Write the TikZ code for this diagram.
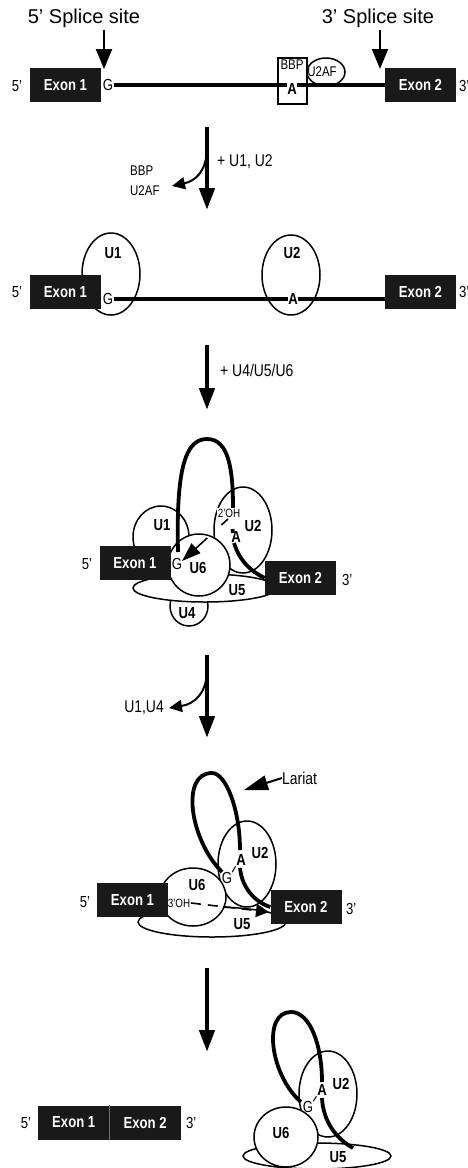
\documentclass[tikz,border=0pt]{standalone}
\usepackage{fontspec}
\setmainfont{Liberation Sans}
\newfontfamily\narrowsans{Liberation Sans}[FakeStretch=0.82]
\usetikzlibrary{arrows.meta}

\tikzset{
  exon/.style={fill=black!90, text=white, minimum width=71pt, minimum height=34pt, inner sep=0pt,
    font=\narrowsans\bfseries\fontsize{16}{16}\selectfont},
  endlabel/.style={font=\narrowsans\fontsize{16}{16}\selectfont, inner sep=0pt},
  nucl/.style={font=\narrowsans\fontsize{16}{16}\selectfont, fill=white, inner sep=0.6pt},
  nuclA/.style={nucl, font=\narrowsans\bfseries\fontsize{16}{16}\selectfont},
  snlabel/.style={font=\narrowsans\bfseries\fontsize{16}{16}\selectfont, inner sep=0pt},
  smalltext/.style={font=\narrowsans\fontsize{14}{14}\selectfont, inner sep=0pt},
  ohtext/.style={font=\narrowsans\fontsize{12}{12}\selectfont, fill=white, inner sep=0.5pt},
  steptext/.style={font=\narrowsans\fontsize{17}{17}\selectfont, inner sep=0pt},
  sitetext/.style={font=\fontsize{20}{20}\selectfont, inner sep=2pt},
  snrna/.style={draw, fill=white, line width=1.5pt},
  intron/.style={line width=3.2pt},
  lariat/.style={line width=3.8pt},
  reaction/.style={line width=4.5pt, -{Triangle[length=22pt,width=15pt]}},
  release/.style={line width=2pt, -{Triangle[length=13pt,width=12pt]}},
  siteptr/.style={line width=2pt, -{Triangle[length=20pt,width=16pt]}},
  attack/.style={line width=1.6pt, -{Triangle[length=19pt,width=13pt]}},
}

\begin{document}
\begin{tikzpicture}[x=1pt, y=-1pt]
\useasboundingbox (0,0) rectangle (468,1168);

% pre-mRNA
\node[sitetext] (ss5) at (84,18) {5’ Splice site};
\node[sitetext] (ss3) at (378,18) {3’ Splice site};
\coordinate (t5) at (104,69);
\coordinate (t3) at (380,69);
\draw[siteptr] (ss5.south -| t5) -- (t5);
\draw[siteptr] (ss3.south -| t3) -- (t3);
\draw[snrna] (278,58) rectangle (307,104);
\draw[snrna] (326,72) ellipse [x radius=19, y radius=14];
\node[exon] (e1a) at (65.5,85) {Exon 1};
\node[exon] (e2a) at (420.5,85) {Exon 2};
\node[endlabel] (p5a) at (17,86) {5’};
\node[endlabel, anchor=west] (p3a) at (459,86) {3’};
\node[nucl] (ga) at (108,85) {G};
\draw[intron] (ga.east) -- (e2a.west);
\node[nuclA] (aa) at (292,89) {A};
\node[smalltext] (bbp) at (292,65) {BBP};
\node[smalltext] (u2af) at (322,72) {U2AF};

% step 1
\coordinate (s1) at (207,127);
\coordinate (s1e) at (207,210);
\draw[reaction] (s1) -- (s1e);
\node[steptext, anchor=west] (add1) at (217,162) {+ U1, U2};
\node[smalltext, anchor=west] (out1a) at (130,171) {BBP};
\node[smalltext, anchor=west] (out1b) at (130,191) {U2AF};
\coordinate (r1) at (172,186);
\draw[release] (207,150) .. controls (206,172) and (195,181) .. (r1);

% U1 and U2 bound
\draw[snrna] (111,274) ellipse [x radius=29, y radius=41];
\draw[snrna] (291,275) ellipse [x radius=29, y radius=40];
\node[exon] (e1b) at (65.5,292) {Exon 1};
\node[exon] (e2b) at (420.5,292) {Exon 2};
\node[endlabel] (p5b) at (17,292) {5’};
\node[endlabel, anchor=west] (p3b) at (459,292) {3’};
\node[nucl] (gb) at (108,299) {G};
\draw[intron] (gb.east) -- (gb.east -| e2b.west);
\node[nuclA] (ab) at (293,299) {A};
\node[snlabel] (u1b) at (113,253) {U1};
\node[snlabel] (u2b) at (292,253) {U2};

% step 2
\coordinate (s2) at (207,345);
\coordinate (s2e) at (207,410);
\draw[reaction] (s2) -- (s2e);
\node[steptext, anchor=west] (add2) at (220,370) {+ U4/U5/U6};

% spliceosome
\draw[snrna] (189,606) ellipse [x radius=19, y radius=20];
\draw[snrna] (205,588) ellipse [x radius=72, y radius=14];
\draw[snrna] (161,537) ellipse [x radius=28, y radius=31];
\draw[snrna] (243,530) ellipse [x radius=29, y radius=43];
\draw[snrna] (199,565) circle [radius=31];
\draw[lariat] (178,552) .. controls (176,470) and (185,439) .. (207,439)
  .. controls (229,439) and (233,470) .. (233,508);
\draw[lariat] (232.5,529) -- (233,533);
\node[exon] (e1c) at (135,563) {Exon 1};
\node[exon] (e2c) at (300.5,578) {Exon 2};
\draw[lariat] (234,543) .. controls (240,562) and (252,572) .. (e2c.west);
\node[endlabel] (p5c) at (87,564) {5’};
\node[endlabel, anchor=west] (p3c) at (342,580) {3’};
\node[snlabel] (u1c) at (162,525) {U1};
\node[snlabel] (u2c) at (253,526) {U2};
\node[snlabel] (u6c) at (198,568) {U6};
\node[snlabel] (u5c) at (237,590) {U5};
\node[snlabel] (u4c) at (187,613) {U4};
\node[endlabel] (gc) at (177,564) {G};
\node[ohtext] (ohc) at (229,513) {2’OH};
\node[nuclA, fill=none] (ac) at (236,537) {A};
\draw[attack, dash pattern=on 9pt off 19pt on 40pt] (228,519) -- (182,561);

% step 3
\coordinate (s3) at (207,655);
\coordinate (s3e) at (207,738);
\draw[reaction] (s3) -- (s3e);
\node[steptext, anchor=east] (out3) at (164,708) {U1,U4};
\coordinate (r3) at (169,708);
\draw[release] (207,672) .. controls (206,694) and (194,704) .. (r3);

% lariat intermediate
\draw[snrna] (212,922) ellipse [x radius=74, y radius=15];
\draw[snrna] (247,864) ellipse [x radius=29, y radius=43];
\draw[snrna] (193,897) ellipse [x radius=33, y radius=29];
\draw[lariat] (222,872) .. controls (190,840) and (180,773) .. (212,773)
  .. controls (226,773) and (240,810) .. (240,850);
\node[exon] (e1d) at (132.5,900) {Exon 1};
\node[exon] (e2d) at (306,907) {Exon 2};
\draw[lariat] (240,868) .. controls (242,888) and (255,902) .. (e2d.west);
\node[endlabel] (p5d) at (85,902) {5’};
\node[endlabel, anchor=west] (p3d) at (346,909) {3’};
\node[snlabel] (u2d) at (260,853) {U2};
\node[snlabel] (u6d) at (197,885) {U6};
\node[snlabel] (u5d) at (242,924) {U5};
\node[nuclA, fill=none] (ad) at (241,860) {A};
\node[endlabel] (gd) at (227,878) {G};
\draw[line width=1pt] (gd.north east) -- (ad.south west);
\node[ohtext, fill=none] (ohd) at (179,903) {3’OH};
\draw[attack, -{Triangle[length=13pt,width=13pt]}, dash pattern=on 10pt off 7pt] (ohd.east) -- (269,912);
\node[steptext, anchor=west] (lar) at (282,778) {Lariat};
\draw[line width=2pt, -{Triangle[length=24pt,width=15pt]}] (lar.west) -- (244,790);

% step 4
\coordinate (s4) at (207,968);
\coordinate (s4e) at (207,1052);
\draw[reaction] (s4) -- (s4e);

% products
\node[exon] (e1e) at (73.75,1122.5) {Exon 1};
\node[exon, anchor=west] (e2e) at (e1e.east) {Exon 2};
\draw[black!55, line width=0.5pt] (e1e.north east) -- (e1e.south east);
\node[endlabel] (p5e) at (26,1123) {5’};
\node[endlabel, anchor=west] (p3e) at (186,1123) {3’};
\draw[snrna] (317,1156) ellipse [x radius=74, y radius=13];
\draw[snrna] (328,1094) ellipse [x radius=29, y radius=43];
\draw[snrna] (286,1137) ellipse [x radius=32, y radius=30];
\draw[lariat] (301,1102) .. controls (270,1075) and (262,1012) .. (291,1012)
  .. controls (310,1012) and (322,1045) .. (322,1082);
\draw[lariat] (322,1098) .. controls (323,1120) and (335,1138) .. (353,1148);
\node[snlabel] (u2e) at (341,1084) {U2};
\node[snlabel] (u6e) at (281,1133) {U6};
\node[snlabel] (u5e) at (338,1157) {U5};
\node[nuclA, fill=none] (ae) at (322,1090) {A};
\node[endlabel] (ge) at (308,1107) {G};
\draw[line width=1pt] (ge.north east) -- (ae.south west);
\end{tikzpicture}
\end{document}
